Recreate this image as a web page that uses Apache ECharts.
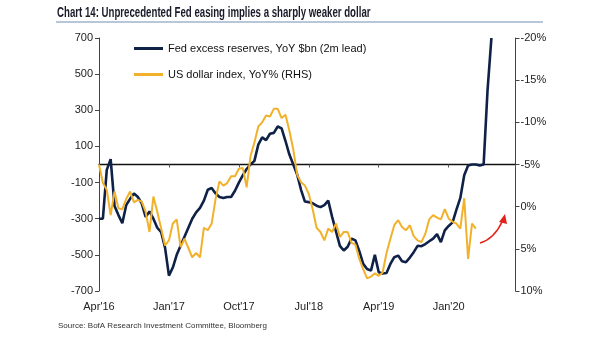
<!DOCTYPE html>
<html><head><meta charset="utf-8">
<script src="https://cdn.jsdelivr.net/npm/echarts@6/dist/echarts.min.js"></script>
<style>html,body{margin:0;padding:0;background:#fff}#c{width:605px;height:341px}</style>
</head><body><div id="c"></div>
<script>
// X tick labels (every 9 months starting Apr'16)
const tickLabels = ["Apr'16", "Jan'17", "Oct'17", "Jul'18", "Apr'19", "Jan'20"];
const stepMonths = 0.5; // half-month observations starting Apr'16

// Fed excess reserves, YoY $bn (2m lead) - LHS
const fedReserves = [-300,-300,-30,30,-230,-280,-325,-225,-190,-160,-180,-215,-290,-260,-300,-350,-375,-460,-615,-570,
  -500,-450,-400,-350,-300,-265,-240,-200,-140,-130,-160,-180,-185,-180,-180,-145,-100,-60,-25,0,
  20,110,150,135,170,175,210,200,130,55,0,-55,-140,-205,-208,-215,-228,-236,-225,-200,
  -290,-370,-450,-476,-455,-410,-420,-480,-550,-578,-587,-500,-596,-603,-600,-550,-513,-504,-535,-541,
  -515,-485,-450,-452,-440,-425,-410,-385,-430,-365,-340,-320,-250,-185,-60,-5,0,0,-5,0,410,700];

// US dollar index, YoY% (RHS, inverted)
const dollarIndex = [-5.0,-2.8,-2.0,1.0,-1.8,0.2,0.3,-0.9,-1.8,-0.5,-0.8,-0.6,0.6,3.0,-1.2,0.6,2.6,4.6,4.0,2.0,
  1.5,4.8,3.8,4.9,6.0,5.5,6.0,2.5,2.8,2.0,-0.9,-3.0,-2.5,-2.8,-3.6,-3.6,-4.5,-4.6,-2.3,-6.0,
  -7.6,-9.5,-10.0,-10.8,-10.7,-11.6,-11.6,-10.5,-10.9,-9.0,-6.8,-3.8,-2.9,-2.5,-1.5,0.3,2.5,3.0,4.0,2.6,
  3.0,2.0,3.6,3.0,3.0,4.3,4.5,6.2,7.4,8.5,8.3,7.9,8.2,7.8,5.5,3.8,2.2,1.6,2.4,2.8,
  2.2,3.5,4.0,4.2,3.2,1.5,1.0,1.3,1.5,0.3,1.4,1.8,2.0,2.6,-1.0,6.2,2.0,2.6];

const fedName = 'Fed excess reserves, YoY $bn (2m lead)';
const usdName = 'US dollar index, YoY% (RHS)';
const titleText = 'Chart 14: Unprecedented Fed easing implies a sharply weaker dollar';

const fedData = fedReserves.map((v, i) => [i * stepMonths, v]);
const usdData = dollarIndex.map((v, i) => [i * stepMonths, v]);

const FONT = 'Liberation Sans, Arial, sans-serif';
const chart = echarts.init(document.getElementById('c'), null, {renderer: 'canvas'});
const xMax = 53.6;
chart.setOption({
  animation: false,
  backgroundColor: '#fff',
  legend: {
    orient: 'vertical', left: 134, top: 43, padding: 0,
    itemWidth: 29, itemHeight: 3, itemGap: 15, icon: 'rect',
    textStyle: {fontFamily: FONT, fontSize: 11, color: '#111'},
    data: [fedName, usdName]
  },
  grid: {left: 99, right: 89.5, top: 38, bottom: 50},
  xAxis: [
    {
      type: 'value', min: 0, max: xMax, interval: 9,
      axisLine: {show: false}, axisTick: {show: false}, splitLine: {show: false},
      axisLabel: {
        margin: 10, fontFamily: FONT, fontSize: 11, color: '#222',
        formatter: v => (Math.abs(v / 9 - Math.round(v / 9)) < 1e-6 ? (tickLabels[Math.round(v / 9)] || '') : '')
      }
    },
    {
      type: 'value', min: 0, max: xMax, interval: 9, position: 'bottom',
      axisLine: {show: true, onZero: true, onZeroAxisIndex: 0, lineStyle: {color: '#111', width: 1.3}},
      axisTick: {show: true, length: 3, lineStyle: {color: '#555'}},
      axisLabel: {show: false}, splitLine: {show: false}
    }
  ],
  yAxis: [
    {
      type: 'value', min: -700, max: 700, interval: 200, position: 'left',
      axisLine: {show: true, onZero: false, lineStyle: {color: '#444', width: 1}},
      axisTick: {show: true, length: 4, lineStyle: {color: '#444'}},
      splitLine: {show: false},
      axisLabel: {margin: 6, fontFamily: FONT, fontSize: 11, color: '#222'}
    },
    {
      type: 'value', min: -20, max: 10, interval: 5, inverse: true, position: 'right',
      axisLine: {show: true, onZero: false, lineStyle: {color: '#444', width: 1}},
      axisTick: {show: true, length: 4, lineStyle: {color: '#444'}},
      splitLine: {show: false},
      axisLabel: {margin: 5, fontFamily: FONT, fontSize: 11, color: '#222', formatter: v => v + '%'}
    }
  ],
  series: [
    {
      name: fedName, type: 'line', xAxisIndex: 0, yAxisIndex: 0, data: fedData,
      showSymbol: false, symbol: 'none', z: 3,
      lineStyle: {color: '#0f2147', width: 2.6}, itemStyle: {color: '#0f2147'}
    },
    {
      name: usdName, type: 'line', xAxisIndex: 0, yAxisIndex: 1, data: usdData,
      showSymbol: false, symbol: 'none', z: 4,
      lineStyle: {color: '#f2b12a', width: 2}, itemStyle: {color: '#f2b12a'}
    }
  ],
  graphic: [
    {type: 'text', x: 57, y: 6, scaleX: 0.69, style: {text: titleText, font: 'bold 14px Liberation Sans, Arial, sans-serif', fill: '#1a1a2a'}},
    {type: 'line', shape: {x1: 56, y1: 22, x2: 543, y2: 22}, style: {stroke: '#6f8fb2', lineWidth: 1}},
    {type: 'text', left: 58, top: 322, style: {text: 'Source: BofA Research Investment Committee, Bloomberg', font: '8px Liberation Sans, Arial, sans-serif', fill: '#333'}},
    {type: 'bezierCurve', shape: {x1: 480, y1: 243, cpx1: 494, cpy1: 239, x2: 502, y2: 222}, style: {stroke: '#e3231b', lineWidth: 1.6, fill: null}},
    {type: 'polygon', shape: {points: [[505, 214], [499, 222], [507, 224]]}, style: {fill: '#e3231b'}}
  ]
});
</script></body></html>
